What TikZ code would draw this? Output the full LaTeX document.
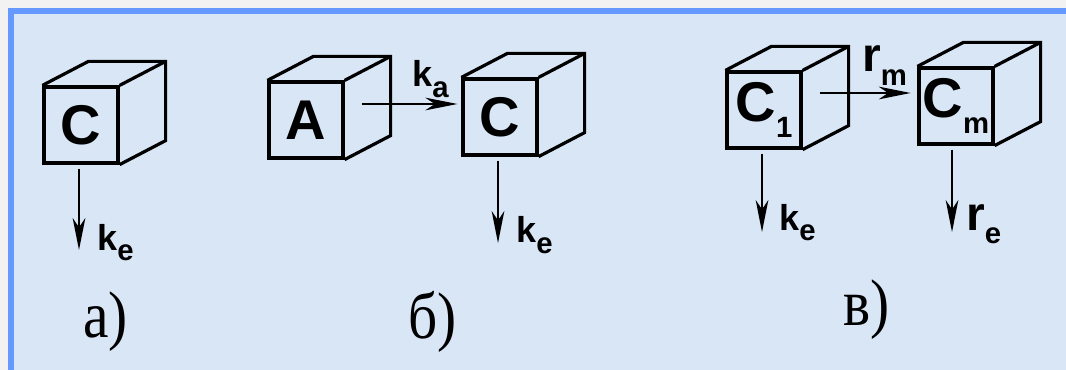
\documentclass[tikz,border=0pt]{standalone}
\usepackage{fontspec}
\setmainfont{Liberation Serif}
\setsansfont{Liberation Sans}
\usetikzlibrary{calc,positioning,arrows.meta}
\definecolor{slidebg}{RGB}{216,230,246}
\definecolor{slideframe}{RGB}{102,153,255}
\definecolor{pagegray}{RGB}{242,242,242}
\newcommand{\lowidx}[1]{\raisebox{-0.28em}{\fontsize{22}{22}\selectfont #1}}
\newcommand{\tallcap}[1]{\scalebox{1}[1.15]{#1}}
\newcommand{\cubeback}[1]{%
  \draw[cubeline] (#1.north west) -- ++(46,-24) -| ($(#1.south east)+(46,-24)$) -- (#1.south east);
  \draw[cubeline] (#1.north east) -- ++(46,-24);}
\tikzset{
  cubeline/.style={line width=2.4pt},
  cubeface/.style={draw, cubeline, minimum width=55.5pt, minimum height=57pt, inner sep=0pt,
    font=\fontsize{42}{42}\selectfont\sffamily\bfseries},
  rateflow/.style={line width=1.1pt, -{Stealth[length=24pt,width=9.5pt,inset=7pt]}},
  rate/.style={anchor=base west, inner sep=0pt, font=\fontsize{27}{27}\selectfont\sffamily\bfseries},
  bigrate/.style={rate, font=\fontsize{36}{36}\selectfont\sffamily\bfseries},
  partlabel/.style={anchor=base west, inner sep=0pt, font=\fontsize{43}{43}\selectfont}
}

\begin{document}
\begin{tikzpicture}[x=0.75pt, y=-0.75pt]
  \useasboundingbox (0,0) rectangle (1066,370);
  \fill[pagegray] (-5,-5) rectangle (1075,380);
  \fill[slidebg] (14,14) rectangle (1075,380);
  \fill[slideframe] (8,8) rectangle (1075,14);
  \fill[slideframe] (8,8) rectangle (14,380);

  % a)
  \node[cubeface] (Ca) at (81,125) {C};
  \cubeback{Ca}
  \coordinate (Ca-out) at (79,250);
  \draw[rateflow, shorten <=3pt] (Ca.south -| Ca-out) -- (Ca-out);
  \node[rate] (kea) at (97,250) {k\lowidx{e}};
  \node[partlabel] (parta) at (83,337) {\tallcap{а)}};

  % b)
  \node[cubeface] (A) at (306,120) {A};
  \node[cubeface] (Cb) at (500,117) {C};
  \cubeback{A}
  \cubeback{Cb}
  \coordinate (A-side) at (362,104);
  \draw[rateflow, shorten >=3pt] (A-side) -- (A-side -| Cb.west);
  \node[rate] (ka) at (412,87) {k\lowidx{a}};
  \coordinate (Cb-out) at (498,243);
  \draw[rateflow, shorten <=3pt] (Cb.south -| Cb-out) -- (Cb-out);
  \node[rate] (keb) at (516,243) {k\lowidx{e}};
  \node[partlabel] (partb) at (408,338) {\tallcap{б)}};

  % c)
  \node[cubeface] (C1) at (764,110) {C\lowidx{1}};
  \node[cubeface] (Cm) at (956,106) {C\lowidx{m}};
  \cubeback{C1}
  \cubeback{Cm}
  \coordinate (C1-side) at (820,93);
  \draw[rateflow, shorten >=5pt] (C1-side) -- (C1-side -| Cm.west);
  \node[bigrate] (rm) at (862,72) {r\lowidx{m}};
  \coordinate (C1-out) at (762,232);
  \draw[rateflow, shorten <=3pt] (C1.south -| C1-out) -- (C1-out);
  \node[rate] (kec) at (779,230) {k\lowidx{e}};
  \coordinate (Cm-out) at (952,232);
  \draw[rateflow, shorten <=3pt] (Cm.south -| Cm-out) -- (Cm-out);
  \node[bigrate] (re) at (966,230) {r\lowidx{e}};
  \node[partlabel] (partc) at (843,325) {\tallcap{в)}};
\end{tikzpicture}
\end{document}
